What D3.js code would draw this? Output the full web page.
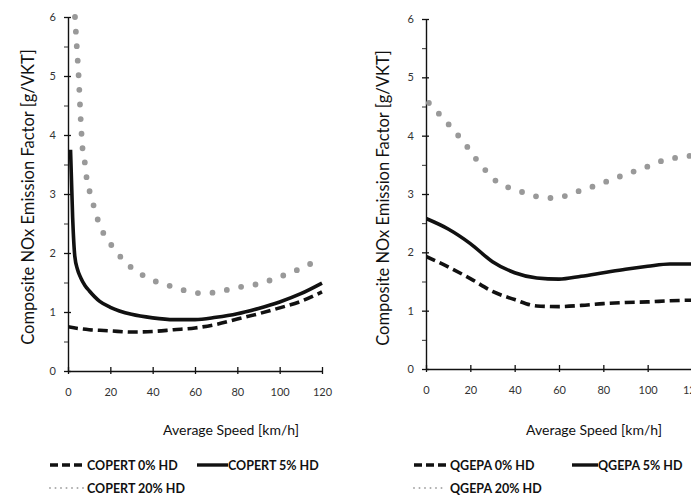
<!DOCTYPE html>
<html><head><meta charset="utf-8">
<script src="https://cdn.jsdelivr.net/npm/d3@7"></script>
<style>
body{margin:0;background:#fff;}
svg{display:block;}
text{font-family:Lato,"Open Sans",sans-serif;}
</style></head>
<body>
<svg id="chart" width="691" height="495"></svg>
<script>
// ---------- data ----------
const yTicks = [0,1,2,3,4,5,6];
const xTicks = [0,20,40,60,80,100,120];
const yTitle = "Composite NOx Emission Factor [g/VKT]";
const xTitle = "Average Speed [km/h]";

const copert0Speed = [0,5,10,15,20,30,40,50,60,70,80,90,100,110,120];
const copert0Val   = [0.75,0.72,0.70,0.69,0.68,0.66,0.67,0.70,0.73,0.79,0.88,0.97,1.07,1.18,1.34];

const copert5Speed = [1.2,2.2,3.2,4.5,6,8,10,15,20,30,40,50,60,70,80,90,100,110,120];
const copert5Val   = [3.75,2.6,1.95,1.72,1.58,1.45,1.36,1.18,1.08,0.96,0.90,0.87,0.87,0.91,0.97,1.06,1.17,1.31,1.49];

const copert20Speed = [3.3,4.1,5.0,6.0,6.9,8.0,8.8,10.4,12.3,14.3,17.1,21,25.4,30.4,36,42.7,49.3,55.7,62.4,69.1,75.7,82.3,89.1,95.7,102.5,108.8,115.4,118];
const copert20Val   = [6.0,5.53,5.02,4.27,3.76,3.52,3.27,3.02,2.78,2.54,2.31,2.11,1.91,1.74,1.61,1.50,1.43,1.36,1.32,1.33,1.38,1.43,1.47,1.54,1.63,1.72,1.83,1.87];

const qgepa0Speed = [0,10,20,30,40,50,60,70,80,90,100,110,120];
const qgepa0Val   = [1.93,1.75,1.55,1.33,1.19,1.08,1.07,1.09,1.12,1.14,1.15,1.17,1.18];

const qgepa5Speed = [0,10,20,30,40,50,60,70,80,90,100,110,120];
const qgepa5Val   = [2.58,2.40,2.15,1.84,1.65,1.56,1.54,1.59,1.65,1.71,1.76,1.80,1.80];

const qgepa20Speed = [1.3,6,10.5,15,19,23,27.5,32,38,44.6,51,57.7,64,70.4,77,83.2,89.6,95.6,102,108,115,120];
const qgepa20Val   = [4.56,4.37,4.18,3.98,3.79,3.58,3.38,3.21,3.10,3.02,2.95,2.93,2.98,3.07,3.15,3.24,3.33,3.41,3.50,3.59,3.63,3.66];

const leftLegend  = ["COPERT 0% HD","COPERT 5% HD","COPERT 20% HD"];
const rightLegend = ["QGEPA 0% HD","QGEPA 5% HD","QGEPA 20% HD"];

// ---------- drawing ----------
const svg = d3.select("#chart");
const zip = (s,v) => s.map((d,i)=>[d,v[i]]);

const panels = [
  {id:"L", x0:68, x1:322, y0:371, y1:17, titleX:28, titleY:197, xTitleX:231,
   series:[zip(copert0Speed,copert0Val), zip(copert5Speed,copert5Val), zip(copert20Speed,copert20Val)],
   legend:leftLegend, lg:{row1:465,row2:488, s0:50, s1:85, s1b:197, s2b:228, t0:87, t1:228}},
  {id:"R", x0:426, x1:692, y0:369, y1:19, titleX:383, titleY:198, xTitleX:594,
   series:[zip(qgepa0Speed,qgepa0Val), zip(qgepa5Speed,qgepa5Val), zip(qgepa20Speed,qgepa20Val)],
   legend:rightLegend, lg:{row1:465,row2:488, s0:414, s1:447, s1b:572, s2b:598, t0:450, t1:598}}
];

const styles = [
  {stroke:"#111", width:3.6, dash:"10,5", cap:"butt"},
  {stroke:"#111", width:3.6, dash:null, cap:"butt"},
  {stroke:"#999", width:5.8, dash:"0,14.6", cap:"round"}
];

panels.forEach(p=>{
  const x = d3.scaleLinear().domain([0,120]).range([p.x0,p.x1]);
  const y = d3.scaleLinear().domain([0,6]).range([p.y0,p.y1]);
  const g = svg.append("g");

  g.append("clipPath").attr("id","clip"+p.id).append("rect")
    .attr("x",p.x0).attr("y",p.y1-3).attr("width",p.x1-p.x0+4).attr("height",p.y0-p.y1+3);

  // y axis
  const yAx = g.append("g").attr("transform",`translate(${p.x0},0)`)
    .call(d3.axisLeft(y).tickValues(yTicks).tickFormat(d3.format("d")).tickSizeInner(4).tickSizeOuter(0).tickPadding(8));
  yAx.select(".domain").attr("stroke","#111").attr("stroke-width",1.4);
  yAx.selectAll(".tick line").attr("x1",3).attr("x2",-4).attr("stroke","#111").attr("stroke-width",1.3);
  yAx.selectAll(".tick text").attr("font-size",11).attr("fill","#333");
  // minor ticks
  g.append("g").attr("transform",`translate(${p.x0},0)`)
    .call(d3.axisLeft(y).tickValues(d3.range(0.5,6,1)).tickFormat("").tickSizeInner(4).tickSizeOuter(0))
    .call(a=>a.select(".domain").remove())
    .selectAll("line").attr("stroke","#333").attr("stroke-width",1);

  // x axis
  const xAx = g.append("g").attr("transform",`translate(0,${p.y0})`)
    .call(d3.axisBottom(x).tickValues(xTicks).tickFormat(d3.format("d")).tickSizeInner(3).tickSizeOuter(0).tickPadding(14));
  xAx.select(".domain").attr("stroke","#111").attr("stroke-width",1.4);
  xAx.selectAll(".tick line").attr("y1",-4).attr("y2",3).attr("stroke","#111").attr("stroke-width",1.3);
  xAx.selectAll(".tick text").attr("font-size",11).attr("fill","#333");

  // titles
  g.append("text").attr("transform",`translate(${p.titleX},${p.titleY}) rotate(-90)`)
    .attr("text-anchor","middle").attr("dominant-baseline","central")
    .attr("font-size",16.5).attr("fill","#111").text(yTitle);
  g.append("text").attr("x",p.xTitleX).attr("y",429)
    .attr("text-anchor","middle").attr("dominant-baseline","central")
    .attr("font-size",14).attr("fill","#111").text(xTitle);

  // lines
  const line = d3.line().x(d=>x(d[0])).y(d=>y(d[1])).curve(d3.curveMonotoneX);
  [2,0,1].forEach(i=>{
    const s = styles[i];
    g.append("path").datum(p.series[i]).attr("d",line)
      .attr("clip-path",`url(#clip${p.id})`)
      .attr("fill","none").attr("stroke",s.stroke).attr("stroke-width",s.width)
      .attr("stroke-linecap",s.cap).attr("stroke-linejoin","round")
      .attr("stroke-dasharray",s.dash);
  });

  // legend
  const L = p.lg;
  const lg = g.append("g");
  lg.append("line").attr("x1",L.s0).attr("x2",L.s1).attr("y1",L.row1).attr("y2",L.row1)
    .attr("stroke","#111").attr("stroke-width",3.4).attr("stroke-dasharray","8,4");
  lg.append("text").attr("x",L.t0).attr("y",L.row1).attr("dominant-baseline","central")
    .attr("font-size",12.5).attr("font-weight","bold").attr("fill","#111").text(p.legend[0]);
  lg.append("line").attr("x1",L.s1b).attr("x2",L.s2b).attr("y1",L.row1).attr("y2",L.row1)
    .attr("stroke","#111").attr("stroke-width",3.4);
  lg.append("text").attr("x",L.t1).attr("y",L.row1).attr("dominant-baseline","central")
    .attr("font-size",12.5).attr("font-weight","bold").attr("fill","#111").text(p.legend[1]);
  lg.append("line").attr("x1",L.s0).attr("x2",L.s1).attr("y1",L.row2).attr("y2",L.row2)
    .attr("stroke","#aaa").attr("stroke-width",2).attr("stroke-dasharray","0,5.5").attr("stroke-linecap","round");
  lg.append("text").attr("x",L.t0).attr("y",L.row2).attr("dominant-baseline","central")
    .attr("font-size",12.5).attr("font-weight","bold").attr("fill","#111").text(p.legend[2]);
});
</script>
</body></html>
